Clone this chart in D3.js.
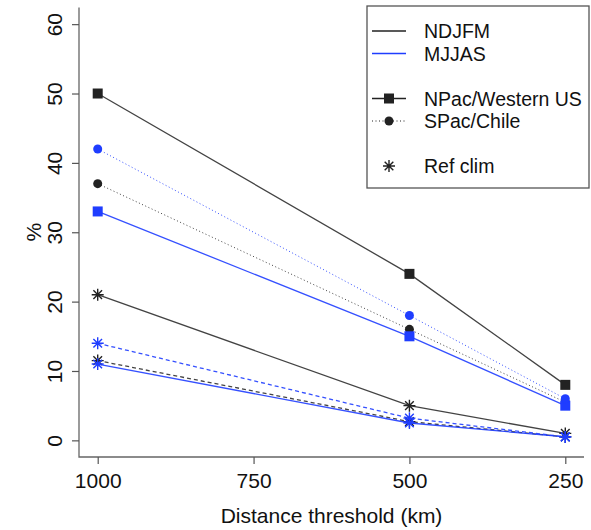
<!DOCTYPE html>
<html lang="en">
<head>
    <meta charset="UTF-8">
    <title>Distance threshold</title>
    <script src="https://cdn.jsdelivr.net/npm/d3@7"></script>
    <style>
        body { margin: 0; background: #fff; }
        text { font-family: "Liberation Sans", Arial, sans-serif; fill: #111; }
    </style>
</head>
<body>
    <div id="chart"></div>
    <script>
        var width = 591, height = 530;

        // data
        var thresholds = [1000, 500, 250];
        var xTicks = [1000, 750, 500, 250];
        var yTicks = [0, 10, 20, 30, 40, 50, 60];
        var ndjfmNPac = [50, 24, 8];
        var ndjfmSPac = [37, 16, 5.5];
        var mjjasNPac = [33, 15, 5];
        var mjjasSPac = [42, 18, 6];
        var refNdjfmNPac = [21, 5, 1];
        var refNdjfmSPac = [11.5, 2.7, 0.5];
        var refMjjasNPac = [11, 2.5, 0.5];
        var refMjjasSPac = [14, 3.2, 0.5];
        var legendLabels = ["NDJFM", "MJJAS", "", "NPac/Western US", "SPac/Chile", "", "Ref clim"];

        var black = "#222", blue = "#1f3dff";

        var series = [
            {v: ndjfmNPac, col: black, dash: null, pch: "square"},
            {v: ndjfmSPac, col: black, dash: "1,2.5", pch: "circle"},
            {v: refNdjfmNPac, col: black, dash: null, pch: "star"},
            {v: refNdjfmSPac, col: black, dash: "4,3", pch: "star"},
            {v: mjjasNPac, col: blue, dash: null, pch: "square"},
            {v: mjjasSPac, col: blue, dash: "1,2.5", pch: "circle"},
            {v: refMjjasSPac, col: blue, dash: "4,3", pch: "star"},
            {v: refMjjasNPac, col: blue, dash: null, pch: "star"}
        ];

        var svg = d3.select("#chart").append("svg")
            .attr("width", width).attr("height", height);

        // plot region 79..584 x 7.5..457 (R style 4% padding)
        var x = d3.scaleLinear().domain([1030, 220]).range([79, 584]);
        var y = d3.scaleLinear().domain([-2.4, 62.4]).range([457, 7.5]);

        // L box
        svg.append("path")
            .attr("d", "M" + x.range()[0] + "," + y.range()[1] + "V" + y.range()[0] + "H" + x.range()[1])
            .attr("fill", "none").attr("stroke", "#666").attr("stroke-width", 1.3);

        // y axis
        var gy = svg.append("g")
            .attr("transform", "translate(" + x.range()[0] + ",0)")
            .call(d3.axisLeft(y).tickValues(yTicks).tickSize(7).tickFormat(d3.format("d")));
        gy.select(".domain").remove();
        gy.selectAll(".tick line").attr("stroke", "#555").attr("stroke-width", 1.2);
        gy.selectAll(".tick text")
            .attr("transform", "rotate(-90)")
            .attr("x", 0).attr("y", -17).attr("dy", 0)
            .attr("text-anchor", "middle")
            .style("font-size", "21px")
            .style("font-family", "Liberation Sans, Arial, sans-serif")
            .attr("fill", "#111");

        // x axis
        var gx = svg.append("g")
            .attr("transform", "translate(0," + y.range()[0] + ")")
            .call(d3.axisBottom(x).tickValues(xTicks).tickSize(7).tickFormat(d3.format("d")));
        gx.select(".domain").remove();
        gx.selectAll(".tick line").attr("stroke", "#555").attr("stroke-width", 1.2);
        gx.selectAll(".tick text")
            .attr("y", 31).attr("dy", 0)
            .style("font-size", "21px")
            .style("font-family", "Liberation Sans, Arial, sans-serif")
            .attr("fill", "#111");

        // axis titles
        svg.append("text")
            .attr("x", (x.range()[0] + x.range()[1]) / 2).attr("y", 523)
            .attr("text-anchor", "middle").style("font-size", "21px")
            .text("Distance threshold (km)");
        svg.append("text")
            .attr("transform", "translate(41," + y(30) + ") rotate(-90)")
            .attr("text-anchor", "middle").style("font-size", "21px")
            .text("%");

        function star(r) {
            var d = r * 0.72;
            return "M" + (-r) + ",0H" + r + "M0," + (-r) + "V" + r +
                   "M" + (-d) + "," + (-d) + "L" + d + "," + d +
                   "M" + (-d) + "," + d + "L" + d + "," + (-d);
        }
        function drawPoint(g, px, py, pch, col) {
            if (pch === "square") {
                g.append("rect").attr("x", px - 5).attr("y", py - 5)
                    .attr("width", 10).attr("height", 10).attr("fill", col);
            } else if (pch === "circle") {
                g.append("circle").attr("cx", px).attr("cy", py).attr("r", 4.5).attr("fill", col);
            } else {
                g.append("path").attr("transform", "translate(" + px + "," + py + ")")
                    .attr("d", star(6)).attr("stroke", col).attr("stroke-width", 1.4).attr("fill", "none");
            }
        }

        var line = d3.line()
            .x(function(d, i) { return x(thresholds[i]); })
            .y(function(d) { return y(d); });

        series.forEach(function(s) {
            var g = svg.append("g");
            g.append("path")
                .attr("d", line(s.v))
                .attr("fill", "none")
                .attr("stroke", s.col)
                .attr("stroke-width", s.dash === "1,2.5" ? 1 : 1.3)
                .attr("stroke-opacity", s.col === black ? 0.85 : 0.9)
                .attr("stroke-dasharray", s.dash);
            s.v.forEach(function(d, i) {
                drawPoint(g, x(thresholds[i]), y(d), s.pch, s.col);
            });
        });

        // legend
        var lg = svg.append("g");
        lg.append("rect").attr("x", 367).attr("y", 6).attr("width", 222).attr("height", 182)
            .attr("fill", "#fff").attr("stroke", "#555").attr("stroke-width", 1.3);
        var rowY = function(i) { return 31 + i * 22.5; };
        var legendStyle = [
            {col: black, dash: null, pch: null, line: true},
            {col: blue, dash: null, pch: null, line: true},
            null,
            {col: black, dash: null, pch: "square", line: true},
            {col: black, dash: "1,2.5", pch: "circle", line: true},
            null,
            {col: black, dash: null, pch: "star", line: false}
        ];
        legendLabels.forEach(function(lab, i) {
            var st = legendStyle[i];
            if (!st) return;
            if (st.line) {
                lg.append("line").attr("x1", 372).attr("x2", 406)
                    .attr("y1", rowY(i)).attr("y2", rowY(i))
                    .attr("stroke", st.col).attr("stroke-width", st.dash ? 1 : 1.3)
                    .attr("stroke-dasharray", st.dash);
            }
            if (st.pch) drawPoint(lg, 389, rowY(i), st.pch, st.col);
            lg.append("text").attr("x", 424).attr("y", rowY(i)).attr("dy", "0.36em")
                .style("font-size", "19.5px").text(lab);
        });
    </script>
</body>
</html>
